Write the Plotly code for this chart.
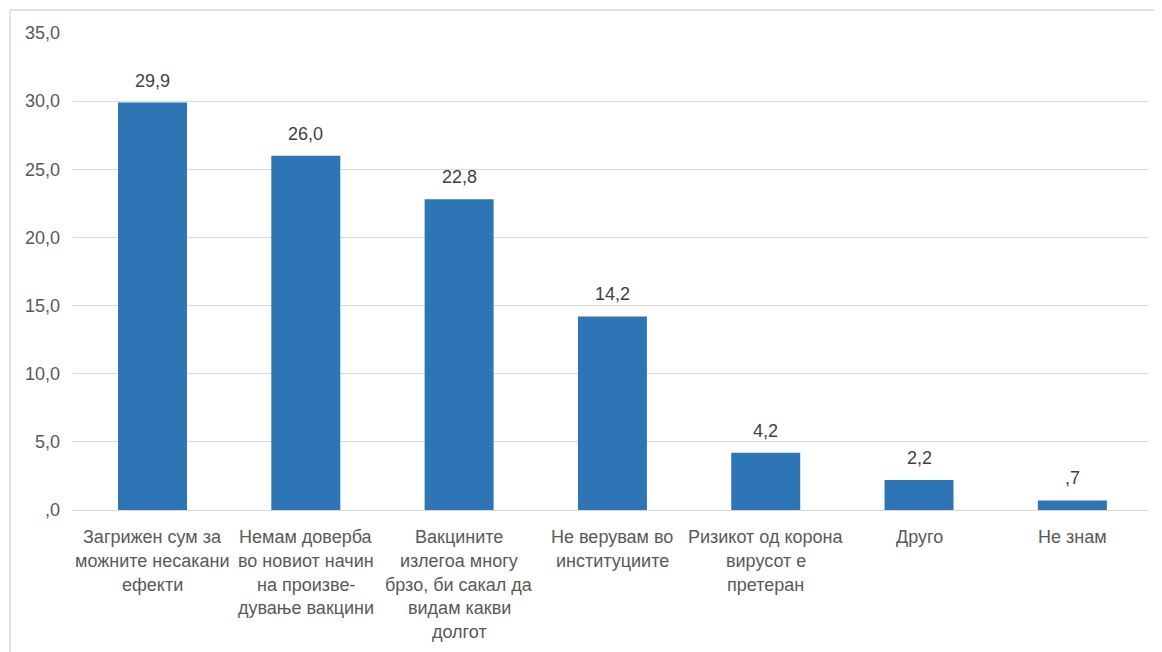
import plotly.graph_objects as go

category_lines = [
    ["Загрижен сум за", "можните несакани", "ефекти"],
    ["Немам доверба", "во новиот начин", "на произве-", "дување вакцини"],
    ["Вакцините", "излегоа многу", "брзо, би сакал да", "видам какви", "долгот"],
    ["Не верувам во", "институциите"],
    ["Ризикот од корона", "вирусот е", "претеран"],
    ["Друго"],
    ["Не знам"],
]
values = [29.9, 26.0, 22.8, 14.2, 4.2, 2.2, 0.7]
value_labels = ["29,9", "26,0", "22,8", "14,2", "4,2", "2,2", ",7"]
tick_values = [0, 5, 10, 15, 20, 25, 30, 35]
tick_labels = [",0", "5,0", "10,0", "15,0", "20,0", "25,0", "30,0", "35,0"]

categories = [" ".join(lines) for lines in category_lines]

FONT = "Liberation Sans, Arial, sans-serif"
W, H = 1162, 652
ML, MR, MT, MB = 65, 21, 25, 150

fig = go.Figure()
fig.add_trace(go.Bar(
    x=categories, y=values,
    marker=dict(color="#2E75B6", line=dict(width=0)),
    hoverinfo="skip",
))

annotations = []
for cat, val, lab in zip(categories, values, value_labels):
    annotations.append(dict(
        x=cat, y=val, xref="x", yref="y", text=lab, showarrow=False,
        yanchor="bottom", yshift=10,
        font=dict(family=FONT, size=18, color="#404040"),
    ))
for cat, lines in zip(categories, category_lines):
    for i, line in enumerate(lines):
        annotations.append(dict(
            x=cat, y=0, xref="x", yref="y", text=line, showarrow=False,
            yanchor="middle", yshift=-27 - 23.8 * i,
            font=dict(family=FONT, size=18, color="#595959"),
        ))

plot_w = W - ML - MR
plot_h = H - MT - MB
fig.add_shape(
    type="rect", xref="paper", yref="paper",
    x0=(2 - ML) / plot_w, x1=(W + 20 - ML) / plot_w,
    y0=-(H + 20 - (H - MB)) / plot_h, y1=1 + (MT - 2) / plot_h,
    line=dict(color="#d9d9d9", width=1.5), layer="below",
)

fig.update_layout(
    width=W, height=H,
    margin=dict(l=ML, r=MR, t=MT, b=MB),
    paper_bgcolor="white", plot_bgcolor="white",
    bargap=0.55,
    showlegend=False,
    annotations=annotations,
    font=dict(family=FONT),
    xaxis=dict(showticklabels=False, showgrid=False, zeroline=False,
               showline=False, ticks=""),
    yaxis=dict(range=[0, 35], tickvals=tick_values, ticktext=tick_labels,
               showgrid=True, gridcolor="#d9d9d9", gridwidth=1,
               zeroline=True, zerolinecolor="#d9d9d9", zerolinewidth=1,
               showline=False, ticks="", ticklabelstandoff=12,
               tickfont=dict(family=FONT, size=18, color="#595959")),
)

fig.write_html("out.html")
